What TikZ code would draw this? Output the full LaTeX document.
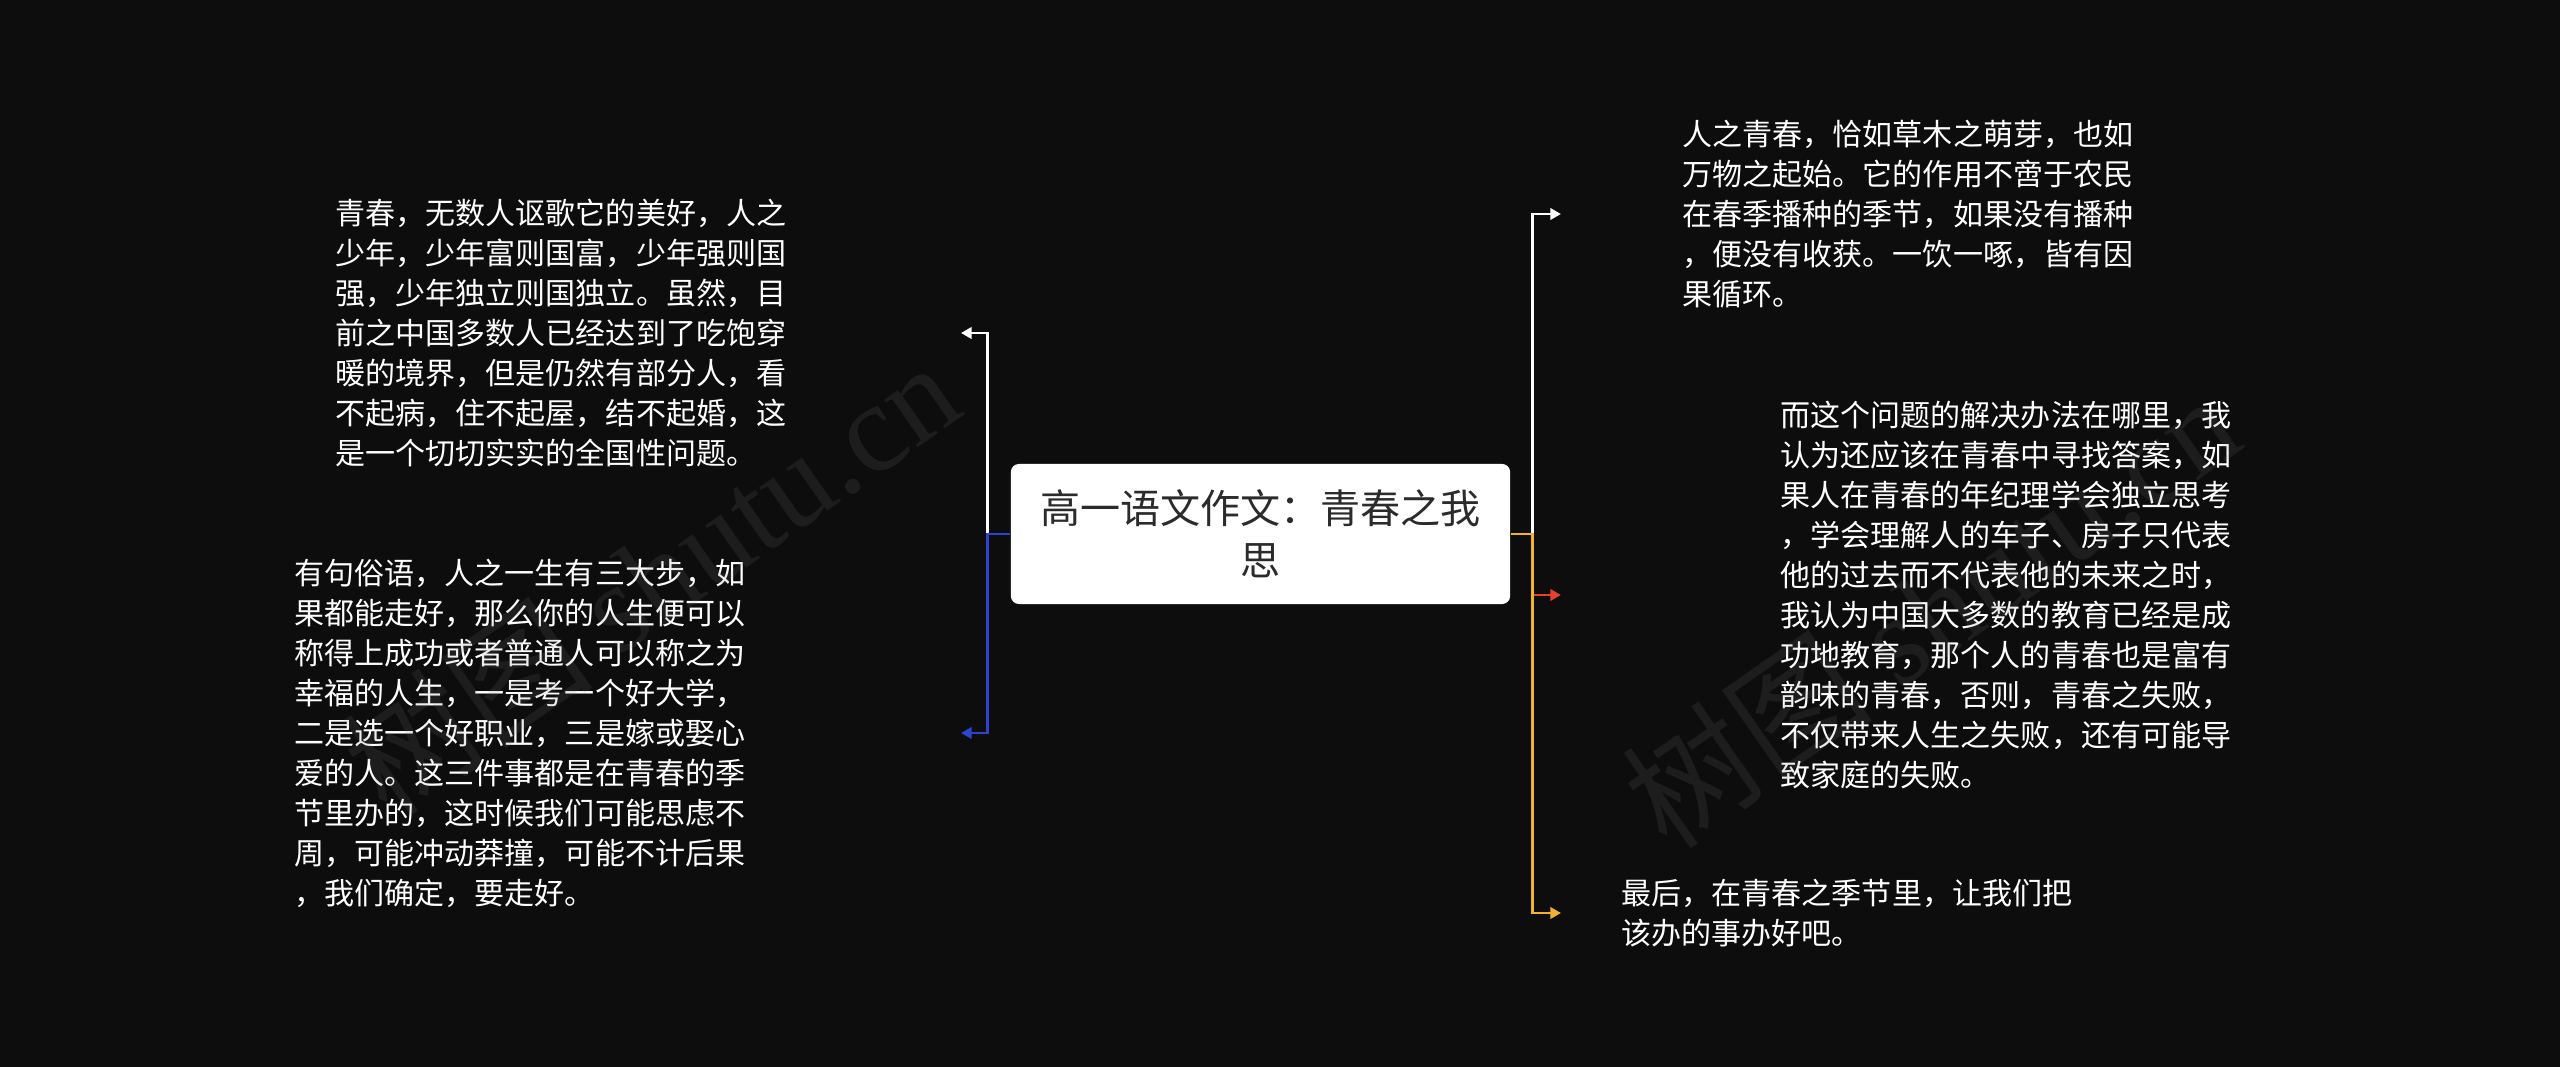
\documentclass[tikz,border=0pt]{standalone}
\usepackage{fontspec}
\setmainfont{Noto Sans CJK SC}
\newfontfamily\wmfont{Liberation Serif}
\usetikzlibrary{arrows.meta}
\definecolor{bgdark}{RGB}{13,13,13}
\definecolor{titlegray}{RGB}{43,43,43}
\definecolor{linkblue}{RGB}{45,68,208}
\definecolor{linkred}{RGB}{230,64,44}
\definecolor{linkgold}{RGB}{243,178,46}

\begin{document}
\begin{tikzpicture}[x=0.01cm,y=-0.01cm,>={Triangle[length=3pt,width=3.2pt]},
  link/.style={->,line width=0.85pt},
  para/.style={text=white,align=left,inner sep=0pt,font=\fontsize{8.54pt}{11.38pt}\selectfont},
  topic/.style={fill=white,text=titlegray,rounded corners=2.3pt,align=center,
    minimum width=4.99cm,minimum height=1.4cm,inner sep=0pt,font=\fontsize{11.4pt}{14.8pt}\selectfont},
  stamp/.style={text=gray,text opacity=0.14,rotate=35,font=\fontsize{36pt}{40pt}\selectfont}]
\fill[bgdark] (0,0) rectangle (2560,1067);
\useasboundingbox (0,0) rectangle (2560,1067);

\node[topic] (root) at (1260.5,534) {高一语文作文：青春之我\\思};

\node[para] (youth) at (335,333) [right] {青春，无数人讴歌它的美好，人之\\少年，少年富则国富，少年强则国\\强，少年独立则国独立。虽然，目\\前之中国多数人已经达到了吃饱穿\\暖的境界，但是仍然有部分人，看\\不起病，住不起屋，结不起婚，这\\是一个切切实实的全国性问题。};
\node[para] (steps) at (294,733) [right] {有句俗语，人之一生有三大步，如\\果都能走好，那么你的人生便可以\\称得上成功或者普通人可以称之为\\幸福的人生，一是考一个好大学，\\二是选一个好职业，三是嫁或娶心\\爱的人。这三件事都是在青春的季\\节里办的，这时候我们可能思虑不\\周，可能冲动莽撞，可能不计后果\\，我们确定，要走好。};
\node[para] (sprout) at (1682,214) [right] {人之青春，恰如草木之萌芽，也如\\万物之起始。它的作用不啻于农民\\在春季播种的季节，如果没有播种\\，便没有收获。一饮一啄，皆有因\\果循环。};
\node[para] (answer) at (1780,595) [right] {而这个问题的解决办法在哪里，我\\认为还应该在青春中寻找答案，如\\果人在青春的年纪理学会独立思考\\，学会理解人的车子、房子只代表\\他的过去而不代表他的未来之时，\\我认为中国大多数的教育已经是成\\功地教育，那个人的青春也是富有\\韵味的青春，否则，青春之失败，\\不仅带来人生之失败，还有可能导\\致家庭的失败。};
\node[para] (last) at (1621,913) [right] {最后，在青春之季节里，让我们把\\该办的事办好吧。};

\draw[link,white,shorten >=1.74cm] (root.west) -- ++(-23,0) |- (youth.east);
\draw[link,linkblue,shorten >=2.15cm] (root.west) -- ++(-23,0) |- (steps.east);
\draw[link,white,shorten >=1.21cm] (root.east) -- ++(22,0) |- (sprout.west);
\draw[link,linkred,shorten >=2.19cm] (root.east) -- ++(22,0) |- (answer.west);
\draw[link,linkgold,shorten >=0.6cm] (root.east) -- ++(22,0) |- (last.west);

\node[stamp] (wmleft) at (650,577) {树图 {\wmfont shutu.cn}};
\node[stamp] (wmright) at (1930,610) {树图 {\wmfont shutu.cn}};
\end{tikzpicture}
\end{document}
